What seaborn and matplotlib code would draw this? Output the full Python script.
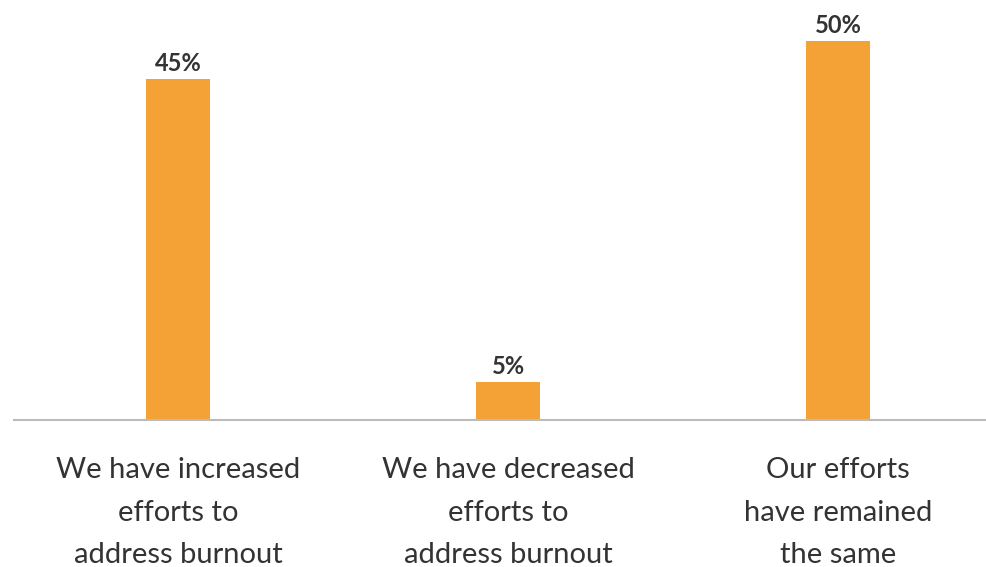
import matplotlib
matplotlib.use("Agg")
import matplotlib.pyplot as plt
import seaborn as sns
import pandas as pd

categories = ["We have increased\nefforts to\naddress burnout",
              "We have decreased\nefforts to\naddress burnout",
              "Our efforts\nhave remained\nthe same"]
values = [45, 5, 50]
value_labels = ["45%", "5%", "50%"]

sns.set_theme(style="white")
plt.rcParams['font.family'] = ['Lato', 'DejaVu Sans']

df = pd.DataFrame({"cat": categories, "val": values})
fig = plt.figure(figsize=(9.87, 5.67), dpi=100)
ax = fig.add_axes([14/987, 1 - 420/567, (985-14)/987, 420/567])
sns.barplot(data=df, x="cat", y="val", color="#F4A236", saturation=1, width=0.195,
            linewidth=0, ax=ax)
ax.set_xlim(-0.497, 2.445)
ax.set_ylim(0, 55.4)
for i, (v, lab) in enumerate(zip(values, value_labels)):
    ax.text(i, v + 0.5, lab, ha="center", va="bottom", fontsize=17,
            fontweight="bold", color="#333333")
ax.set_xlabel("")
ax.set_ylabel("")
ax.set_yticks([])
ax.tick_params(axis="x", length=0, pad=27, labelsize=21, labelcolor="#333333")
for t in ax.get_xticklabels():
    t.set_linespacing(1.78)
for s in ["top", "left", "right"]:
    ax.spines[s].set_visible(False)
ax.spines["bottom"].set_color("#BBBBBB")
ax.spines["bottom"].set_linewidth(1.5)
fig.savefig("out.png", dpi=100)
